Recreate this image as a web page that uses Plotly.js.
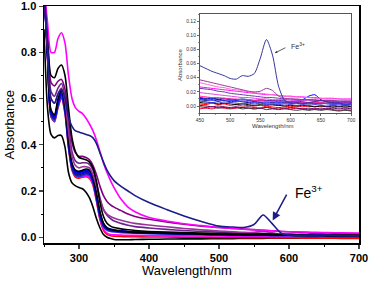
<!DOCTYPE html>
<html><head><meta charset="utf-8">
<script src="https://cdn.plot.ly/plotly-3.0.1.min.js"></script>
<style>html,body{margin:0;padding:0;background:#fff}#c{width:370px;height:282px}</style>
</head><body><div id="c"></div>
<script>
// Main chart wavelengths (nm)
const wl = [250,255,260,265,270,275,280,285,290,295,300,305,310,315,320,325,330,335,340,345,350,
            360,370,380,400,425,450,475,500,520,535,550,563,575,590,610,625,640,655,675,700];
// Main series (absorbance)
const sMagenta = [1.08,0.93,0.80,0.80,0.86,0.885,0.84,0.70,0.60,0.56,0.545,0.535,0.515,0.49,0.46,0.42,0.37,0.32,0.28,0.245,0.215,
  0.165,0.13,0.11,0.085,0.07,0.058,0.05,0.042,0.038,0.035,0.032,0.03,0.028,0.025,0.023,0.022,0.021,0.02,0.019,0.018];
const sFe = [1.08,0.85,0.60,0.58,0.62,0.64,0.60,0.52,0.48,0.46,0.455,0.45,0.445,0.44,0.43,0.405,0.365,0.325,0.29,0.265,0.245,
  0.22,0.20,0.18,0.15,0.12,0.092,0.068,0.048,0.044,0.042,0.055,0.096,0.062,0.015,0.008,0.009,0.01,0.009,0.007,0.006];
const sBlack1 = [1.08,0.88,0.70,0.69,0.73,0.745,0.70,0.56,0.43,0.37,0.345,0.34,0.335,0.325,0.30,0.24,0.15,0.09,0.06,0.048,0.042,
  0.036,0.032,0.029,0.025,0.022,0.02,0.018,0.016,0.015,0.014,0.014,0.015,0.014,0.012,0.011,0.01,0.01,0.009,0.009,0.008];
const sPurple1 = [1.08,0.86,0.67,0.655,0.675,0.683,0.64,0.52,0.41,0.365,0.35,0.35,0.345,0.335,0.31,0.27,0.22,0.18,0.155,0.14,0.13,
  0.115,0.10,0.09,0.078,0.066,0.056,0.048,0.042,0.038,0.035,0.033,0.03,0.028,0.025,0.022,0.02,0.019,0.018,0.016,0.015];
const sPurple2 = [1.08,0.83,0.60,0.58,0.62,0.645,0.59,0.46,0.35,0.31,0.30,0.305,0.305,0.30,0.27,0.22,0.16,0.12,0.10,0.09,0.083,
  0.073,0.066,0.06,0.053,0.045,0.038,0.032,0.027,0.024,0.021,0.021,0.026,0.02,0.013,0.011,0.01,0.01,0.009,0.009,0.008];
const sPurple3 = [1.08,0.84,0.63,0.61,0.645,0.665,0.61,0.48,0.37,0.33,0.32,0.322,0.322,0.315,0.29,0.235,0.17,0.12,0.095,0.08,0.07,
  0.06,0.052,0.046,0.04,0.034,0.029,0.025,0.022,0.02,0.018,0.017,0.017,0.016,0.014,0.013,0.012,0.011,0.011,0.01,0.01];
const sBlue1 = [1.08,0.80,0.54,0.52,0.585,0.625,0.56,0.41,0.31,0.28,0.275,0.28,0.285,0.28,0.25,0.18,0.10,0.055,0.038,0.032,0.029,
  0.026,0.024,0.022,0.02,0.017,0.015,0.013,0.012,0.011,0.011,0.01,0.01,0.01,0.009,0.009,0.011,0.017,0.01,0.007,0.006];
const sBlue2 = [1.08,0.79,0.53,0.51,0.575,0.615,0.55,0.40,0.30,0.27,0.265,0.27,0.275,0.27,0.24,0.17,0.09,0.048,0.033,0.028,0.026,
  0.023,0.021,0.019,0.017,0.015,0.013,0.012,0.011,0.01,0.009,0.009,0.009,0.008,0.008,0.007,0.007,0.007,0.006,0.006,0.005];
const sBlue3 = [1.08,0.78,0.525,0.50,0.565,0.605,0.54,0.39,0.295,0.265,0.26,0.265,0.27,0.265,0.235,0.165,0.085,0.045,0.03,0.025,0.023,
  0.02,0.018,0.017,0.015,0.013,0.012,0.011,0.01,0.009,0.008,0.008,0.008,0.007,0.007,0.006,0.006,0.006,0.005,0.005,0.004];
const sRoyal = [1.08,0.80,0.545,0.525,0.59,0.632,0.565,0.415,0.315,0.285,0.28,0.285,0.29,0.285,0.255,0.185,0.105,0.06,0.042,0.035,0.032,
  0.028,0.025,0.023,0.021,0.018,0.016,0.014,0.013,0.012,0.011,0.011,0.01,0.01,0.009,0.009,0.008,0.008,0.008,0.007,0.007];
const sNavy2 = [1.08,0.79,0.535,0.515,0.58,0.62,0.555,0.405,0.305,0.275,0.27,0.275,0.28,0.275,0.245,0.175,0.095,0.05,0.035,0.03,0.027,
  0.024,0.022,0.02,0.018,0.016,0.014,0.013,0.012,0.011,0.01,0.01,0.01,0.009,0.009,0.008,0.008,0.008,0.007,0.007,0.006];
const sRed = [1.08,0.78,0.52,0.50,0.56,0.60,0.535,0.385,0.29,0.26,0.255,0.26,0.262,0.255,0.225,0.155,0.075,0.03,0.012,0.006,0.004,
  0.003,0.002,0.002,0.001,0.001,0.0,0.0,-0.001,-0.001,-0.002,-0.002,-0.002,-0.003,-0.003,-0.003,-0.004,-0.004,-0.004,-0.005,-0.005];
const sPink = [1.08,0.79,0.53,0.51,0.57,0.612,0.545,0.395,0.30,0.27,0.26,0.262,0.265,0.258,0.23,0.16,0.08,0.035,0.018,0.012,0.01,
  0.009,0.008,0.008,0.007,0.006,0.006,0.005,0.005,0.004,0.004,0.004,0.004,0.004,0.003,0.003,0.003,0.003,0.002,0.002,0.002];
const sBlack2 = [1.08,0.80,0.55,0.53,0.60,0.64,0.57,0.42,0.32,0.29,0.285,0.29,0.295,0.29,0.26,0.19,0.11,0.06,0.04,0.033,0.03,
  0.026,0.023,0.021,0.019,0.017,0.015,0.013,0.012,0.011,0.01,0.01,0.01,0.009,0.009,0.008,0.008,0.008,0.007,0.007,0.006];
const sBlack3 = [0.90,0.56,0.445,0.43,0.44,0.44,0.39,0.28,0.235,0.222,0.215,0.21,0.195,0.17,0.13,0.08,0.04,0.012,0.0,-0.006,-0.01,
  -0.011,-0.011,-0.01,-0.009,-0.008,-0.007,-0.007,-0.006,-0.006,-0.005,-0.005,-0.005,-0.004,-0.004,-0.004,-0.003,-0.003,-0.003,-0.002,-0.002];

// Inset wavelengths (nm) and series
const wlIn = [450,460,470,480,490,500,510,520,530,540,550,560,570,580,590,600,610,620,630,640,650,660,670,680,690,700];
const iFe = [0.057,0.053,0.049,0.046,0.043,0.039,0.038,0.043,0.042,0.046,0.068,0.094,0.072,0.028,0.008,0.004,0.004,0.004,0.005,0.006,0.008,0.006,0.004,0.004,0.003,0.003];
const iPurple = [0.037,0.035,0.033,0.031,0.029,0.027,0.025,0.023,0.021,0.020,0.021,0.025,0.022,0.014,0.011,0.010,0.010,0.009,0.009,0.009,0.008,0.008,0.008,0.007,0.007,0.007];
const iPink = [0.033,0.031,0.029,0.027,0.026,0.024,0.023,0.022,0.020,0.019,0.018,0.017,0.016,0.015,0.014,0.013,0.013,0.012,0.012,0.011,0.011,0.010,0.010,0.010,0.009,0.009];
const iMagenta = [0.027,0.026,0.025,0.024,0.023,0.022,0.021,0.020,0.019,0.018,0.017,0.016,0.016,0.015,0.014,0.014,0.013,0.013,0.012,0.012,0.011,0.011,0.011,0.010,0.010,0.010];
const iViolet = [0.025,0.024,0.023,0.021,0.020,0.018,0.017,0.016,0.015,0.014,0.013,0.012,0.012,0.011,0.010,0.010,0.009,0.009,0.009,0.008,0.008,0.008,0.007,0.007,0.007,0.007];
const iMagenta2 = [0.019,0.018,0.017,0.016,0.015,0.014,0.013,0.012,0.012,0.011,0.010,0.010,0.009,0.009,0.009,0.008,0.008,0.008,0.008,0.007,0.007,0.007,0.007,0.006,0.006,0.006];
const iPink3 = [0.014,0.013,0.012,0.012,0.011,0.010,0.010,0.009,0.009,0.008,0.008,0.007,0.007,0.007,0.006,0.006,0.006,0.005,0.005,0.005,0.005,0.004,0.004,0.004,0.004,0.004];
const iNavy3 = [0.012,0.011,0.012,0.010,0.011,0.010,0.009,0.010,0.009,0.008,0.009,0.008,0.007,0.008,0.007,0.006,0.007,0.006,0.005,0.006,0.005,0.006,0.005,0.004,0.005,0.004];
const iBlue1 = [0.011,0.010,0.011,0.009,0.010,0.009,0.008,0.009,0.008,0.007,0.008,0.007,0.008,0.006,0.007,0.006,0.007,0.009,0.014,0.016,0.009,0.006,0.006,0.005,0.006,0.005];
const iBlue3 = [0.010,0.009,0.008,0.009,0.007,0.008,0.006,0.007,0.006,0.005,0.006,0.005,0.004,0.005,0.004,0.005,0.004,0.003,0.004,0.003,0.004,0.003,0.002,0.003,0.002,0.003];
const iNavy2 = [0.009,0.008,0.009,0.007,0.008,0.006,0.007,0.006,0.005,0.006,0.005,0.004,0.005,0.004,0.005,0.004,0.005,0.004,0.003,0.004,0.003,0.004,0.003,0.003,0.002,0.003];
const iBlue2 = [0.007,0.006,0.005,0.006,0.004,0.005,0.004,0.003,0.004,0.003,0.004,0.002,0.003,0.002,0.003,0.002,0.001,0.002,0.001,0.002,0.001,0.000,0.001,0.000,0.001,0.000];
const iBlack1 = [0.005,0.004,0.005,0.003,0.004,0.003,0.002,0.003,0.002,0.001,0.002,0.001,0.002,0.001,0.000,0.001,0.000,0.001,0.000,-0.001,0.000,-0.001,0.000,-0.001,0.000,-0.001];
const iRed1 = [0.003,0.002,0.004,0.002,0.003,0.001,0.002,0.000,0.001,0.000,0.001,-0.001,0.000,0.001,0.000,-0.001,0.000,-0.001,0.000,-0.001,0.000,-0.001,-0.002,-0.001,-0.002,-0.001];
const iPurpleDk = [0.001,0.000,-0.001,0.000,-0.001,-0.002,-0.001,-0.002,-0.001,-0.002,-0.003,-0.002,-0.003,-0.002,-0.003,-0.002,-0.003,-0.004,-0.003,-0.004,-0.003,-0.004,-0.003,-0.004,-0.003,-0.004];
const iGrey = [-0.001,-0.002,-0.001,-0.003,-0.002,-0.003,-0.002,-0.004,-0.003,-0.004,-0.003,-0.005,-0.004,-0.005,-0.004,-0.005,-0.006,-0.005,-0.006,-0.005,-0.006,-0.005,-0.006,-0.007,-0.006,-0.007];
const iRed2 = [-0.004,-0.003,-0.004,-0.002,-0.003,-0.004,-0.003,-0.002,-0.003,-0.004,-0.003,-0.002,-0.003,-0.004,-0.003,-0.004,-0.003,-0.004,-0.005,-0.004,-0.005,-0.004,-0.005,-0.006,-0.005,-0.006];

const FE_COLOR = '#1c1c8a';
const mainSeries = [
  [sBlack3,'#000000'],[sRed,'#ff0000'],[sPink,'#ff00ff'],[sBlue3,'#3c3cff'],[sBlue2,'#1e1eb4'],
  [sNavy2,'#191970'],[sRoyal,'#0000cd'],[sBlue1,'#0000ff'],[sBlack2,'#000000'],[sPurple3,'#6b238e'],
  [sPurple2,'#993399'],[sPurple1,'#800080'],[sBlack1,'#000000'],[sMagenta,'#ff00ff'],[sFe,FE_COLOR]
];
const insetSeries = [
  [iRed2,'#e00030'],[iGrey,'#333333'],[iPurpleDk,'#660066'],[iRed1,'#ff0000'],[iBlack1,'#000000'],
  [iBlue2,'#3333cc'],[iNavy2,'#000080'],[iBlue3,'#4040ff'],[iBlue1,'#0000ff'],[iNavy3,'#1a1a99'],
  [iPink3,'#ff3399'],[iMagenta2,'#e040e0'],[iViolet,'#6633aa'],[iMagenta,'#ff00ff'],[iPink,'#ff66cc'],
  [iPurple,'#993399'],[iFe,'#3535a0']
];

const traces = [];
mainSeries.forEach(([v,c]) => traces.push({x: wl, y: v, type:'scatter', mode:'lines',
  line:{color:c, width:1.6, shape:'spline', smoothing:0.7}, xaxis:'x', yaxis:'y', hoverinfo:'skip'}));
insetSeries.forEach(([v,c]) => traces.push({x: wlIn, y: v, type:'scatter', mode:'lines',
  line:{color:c, width:1, shape:'spline', smoothing:0.7}, xaxis:'x2', yaxis:'y2', hoverinfo:'skip'}));

const F = 'Arial, "Liberation Sans", sans-serif';
const layout = {
  width:370, height:282, showlegend:false,
  margin:{l:44, r:11, t:6, b:39, pad:0},
  paper_bgcolor:'#fff', plot_bgcolor:'rgba(0,0,0,0)',
  font:{family:F, color:'#000'},
  xaxis:{domain:[0,1], range:[250,700], tick0:300, dtick:100, ticks:'outside', ticklen:4, tickwidth:1.2,
    showline:true, linewidth:1.5, linecolor:'#000', mirror:true, showgrid:false, zeroline:false,
    ticklabeloverflow:'allow',
    tickfont:{family:F, size:11, weight:'bold', color:'#000'},
    minor:{dtick:50, ticks:'outside', ticklen:2, tickwidth:1, tickcolor:'#000', showgrid:false}},
  yaxis:{domain:[0,1], range:[-0.025,1.0006], tick0:0, dtick:0.2, tickformat:'.1f', ticks:'outside', ticklen:4, tickwidth:1.2,
    showline:true, linewidth:1.5, linecolor:'#000', mirror:true, showgrid:false, zeroline:false,
    ticklabeloverflow:'allow',
    tickfont:{family:F, size:11, weight:'bold', color:'#000'},
    minor:{dtick:0.1, ticks:'outside', ticklen:2, tickwidth:1, tickcolor:'#000', showgrid:false}},
  xaxis2:{domain:[0.495,0.975], anchor:'y2', range:[450,700], dtick:50, ticks:'outside', ticklen:2, tickwidth:0.8,
    showline:true, linewidth:1, linecolor:'#555', mirror:true, showgrid:false, zeroline:false,
    tickfont:{family:F, size:5, color:'#333'},
    minor:{dtick:25, ticks:'outside', ticklen:1, tickwidth:0.6, tickcolor:'#555', showgrid:false}},
  yaxis2:{domain:[0.548,0.966], anchor:'x2', range:[-0.01,0.13], tick0:0, dtick:0.02, tickformat:'.2f', ticks:'outside', ticklen:2, tickwidth:0.8,
    showline:true, linewidth:1, linecolor:'#555', mirror:true, showgrid:false, zeroline:false,
    tickfont:{family:F, size:5, color:'#333'},
    minor:{dtick:0.01, ticks:'outside', ticklen:1, tickwidth:0.6, tickcolor:'#555', showgrid:false}},
  annotations:[
    {text:'Wavelength/nm', xref:'paper', yref:'paper', x:0.454, y:-0.114, xanchor:'center', yanchor:'middle',
      showarrow:false, font:{family:F, size:13, color:'#000'}},
    {text:'Absorbance', xref:'paper', yref:'paper', x:-0.108, y:0.5, xanchor:'center', yanchor:'middle',
      textangle:-90, showarrow:false, font:{family:F, size:13, color:'#000'}},
    {text:'Absorbance', xref:'paper', yref:'paper', x:0.432, y:0.751, xanchor:'center', yanchor:'middle',
      textangle:-90, showarrow:false, font:{family:F, size:6, color:'#333'}},
    {text:'Wavelength/nm', xref:'paper', yref:'paper', x:0.724, y:0.494, xanchor:'center', yanchor:'middle',
      showarrow:false, font:{family:F, size:6, color:'#333'}},
    {text:'Fe<sup>3+</sup>', xref:'paper', yref:'paper', x:0.790, y:0.215, xanchor:'left', yanchor:'middle',
      showarrow:false, font:{family:F, size:14, color:'#000'}},
    {text:' ', xref:'x', yref:'y', x:576.7, y:0.072, ax:15, ay:-28, showarrow:true,
      arrowhead:2, arrowsize:1.1, arrowwidth:1.5, arrowcolor:FE_COLOR, font:{size:1}},
    {text:'Fe<sup>3+</sup>', xref:'paper', yref:'paper', x:0.778, y:0.833, xanchor:'left', yanchor:'middle',
      showarrow:false, font:{family:F, size:7, color:'#333'}},
    {text:' ', xref:'x2', yref:'y2', x:574, y:0.075, ax:12, ay:-6, showarrow:true,
      arrowhead:2, arrowsize:0.6, arrowwidth:0.8, arrowcolor:'#333', font:{size:1}}
  ]
};
Plotly.newPlot('c', traces, layout, {staticPlot:true, displayModeBar:false});
</script></body></html>
